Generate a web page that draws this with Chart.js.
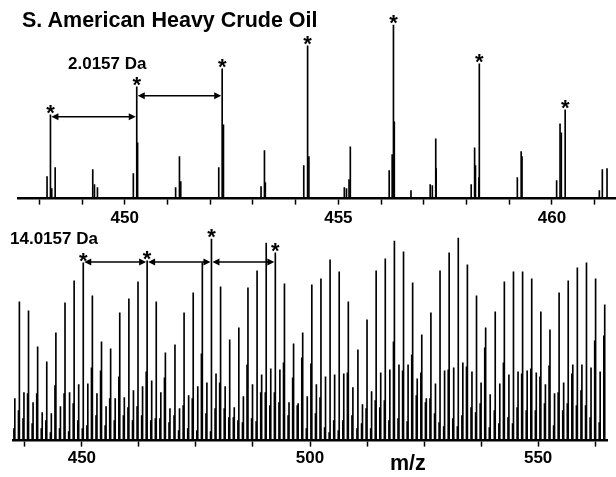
<!DOCTYPE html>
<html>
<head>
<meta charset="utf-8">
<script src="https://cdn.jsdelivr.net/npm/chart.js@4.4.1/dist/chart.umd.min.js"></script>
<style>
  body { margin: 0; background: #fff; width: 616px; height: 477px; overflow: hidden; position: relative; font-family: "Liberation Sans", Arial, sans-serif; }
  canvas { position: absolute; left: 0; }
  .lbl { position: absolute; font-weight: bold; line-height: 1; color: #000; white-space: nowrap; }
</style>
</head>
<body>
<canvas id="chartTop" width="616" height="233" style="top:0"></canvas>
<canvas id="chartBottom" width="616" height="251" style="top:220px"></canvas>
<div class="lbl" style="left:22px;top:10px;font-size:21.5px">S. American Heavy Crude Oil</div>
<div class="lbl" style="left:68px;top:55px;font-size:17px">2.0157 Da</div>
<div class="lbl" style="left:10px;top:230px;font-size:17px">14.0157 Da</div>
<div class="lbl" style="left:390px;top:453px;font-size:21.5px">m/z</div>
<script>
// --- upper panel (zoom on 448-461) ---
const topMz = [
  448.18, 448.26, 448.29, 448.37, 449.25, 449.29, 449.36,
  450.20, 450.28, 450.30, 451.19, 451.28, 451.31,
  452.20, 452.28, 452.31, 453.19, 453.27, 453.29,
  454.19, 454.28, 454.31, 455.14, 455.19, 455.25, 455.28,
  456.19, 456.26, 456.29, 456.31, 456.70,
  457.15, 457.20, 457.28, 457.29,
  458.11, 458.19, 458.21, 458.29, 458.30,
  459.19, 459.28, 459.30,
  460.11, 460.19, 460.22, 460.31,
  461.11, 461.18, 461.29
];
const topInt = [
  22, 84, 10, 31, 29, 14, 11,
  25, 112, 56, 11, 42, 17,
  31, 130, 74, 12, 48, 16,
  33, 153, 42, 11, 10, 19, 52,
  28, 44, 174, 77, 8,
  14, 13, 60, 30,
  14, 51, 33, 21, 135,
  21, 47, 42,
  18, 75, 66, 89,
  8, 29, 30
];
const topStars = [448.26, 450.28, 452.28, 454.28, 456.29, 458.30, 460.31];
const topArrowLevels = [82, 103];
const topTicks = [448, 449, 450, 451, 452, 453, 454, 455, 456, 457, 458, 459, 460, 461];
const topLabels = [450, 455, 460];

// --- lower panel (full range) ---
const lowMz = [
  435.3, 436.3, 437.3, 438.3, 439.3, 440.3, 441.3, 442.3, 443.3, 444.3,
  445.3, 446.3, 447.3, 448.3, 449.3, 450.3, 451.3, 452.3, 453.3, 454.3,
  455.3, 456.3, 457.3, 458.3, 459.3, 460.3, 461.3, 462.3, 463.3, 464.3,
  465.3, 466.3, 467.3, 468.3, 469.3, 470.4, 471.4, 472.4, 473.4, 474.4,
  475.4, 476.4, 477.4, 478.4, 479.4, 480.4, 481.4, 482.4, 483.4, 484.4,
  485.4, 486.4, 487.4, 488.4, 489.4, 490.4, 491.4, 492.4, 493.4, 494.4,
  495.4, 496.4, 497.4, 498.4, 499.4, 500.4, 501.4, 502.4, 503.4, 504.4,
  505.4, 506.4, 507.4, 508.4, 509.4, 510.5, 511.5, 512.5, 513.5, 514.5,
  515.5, 516.5, 517.5, 518.5, 519.5, 520.5, 521.5, 522.5, 523.5, 524.5,
  525.5, 526.5, 527.5, 528.5, 529.5, 530.5, 531.5, 532.5, 533.5, 534.5,
  535.5, 536.5, 537.5, 538.5, 539.5, 540.6, 541.6, 542.6, 543.6, 544.6,
  545.6, 546.6, 547.6, 548.6, 549.6, 550.6, 551.6, 552.6, 553.6, 554.6,
  555.6, 556.6, 557.6, 558.6, 559.6, 560.6, 561.6, 562.6, 563.6, 564.6
];
const lowMain = [
  42, 139, 48, 130, 38, 94, 28, 79, 27, 108,
  34, 138, 48, 160, 56, 178, 57, 145, 47, 99,
  34, 92, 42, 128, 43, 142, 50, 159, 54, 180,
  60, 139, 48, 88, 32, 96, 32, 128, 45, 148,
  54, 178, 58, 202, 67, 154, 54, 101, 33, 113,
  44, 153, 56, 170, 66, 198, 72, 188, 71, 157,
  38, 97, 37, 108, 44, 156, 56, 162, 64, 181,
  66, 169, 67, 139, 53, 91, 36, 121, 49, 170,
  68, 182, 71, 200, 76, 189, 76, 158, 62, 106,
  42, 128, 57, 170, 70, 188, 73, 203, 78, 176,
  69, 145, 58, 113, 46, 129, 57, 159, 66, 169,
  69, 169, 70, 162, 68, 129, 56, 111, 47, 148,
  58, 160, 76, 173, 76, 178, 73, 162, 69, 136
];
const lowMinor = [
  12, 30, 22, 47, 17, 47, 12, 20, 8, 55,
  12, 47, 9, 37, 20, 12, 15, 73, 25, 70,
  15, 42, 20, 64, 25, 33, 20, 34, 25, 69,
  20, 22, 22, 63, 18, 25, 10, 35, 12, 42,
  10, 87, 27, 9, 32, 58, 32, 23, 23, 20,
  18, 76, 22, 19, 48, 48, 35, 48, 38, 78,
  25, 63, 35, 83, 12, 77, 27, 43, 13, 8,
  20, 10, 20, 68, 25, 12, 17, 32, 12, 40,
  33, 40, 20, 99, 22, 70, 19, 86, 45, 68,
  38, 42, 27, 18, 14, 71, 22, 14, 25, 74,
  33, 28, 37, 93, 13, 30, 17, 78, 23, 17,
  33, 67, 30, 72, 30, 64, 37, 75, 15, 48,
  30, 37, 67, 35, 50, 35, 23, 100, 18, 105
];
const lowStars = [450.3, 464.3, 478.4, 492.4];
const lowArrowLevels = [179, 179, 179];
const lowTicks = [437.5, 450, 462.5, 475, 487.5, 500, 512.5, 525, 537.5, 550, 562.5];
const lowLabels = [450, 500, 550];

const FONT = '"Liberation Sans", Arial, sans-serif';
const el = (id) => document.getElementById(id);

// double headed arrow between two peaks
const drawArrow = (ctx, x1, x2, yy) => {
  const hl = 7, hw = 3.5;
  ctx.lineWidth = 1.5;
  ctx.beginPath(); ctx.moveTo(x1 + hl - 1, yy); ctx.lineTo(x2 - hl + 1, yy); ctx.stroke();
  ctx.beginPath(); ctx.moveTo(x1, yy); ctx.lineTo(x1 + hl, yy - hw); ctx.lineTo(x1 + hl, yy + hw); ctx.closePath(); ctx.fill();
  ctx.beginPath(); ctx.moveTo(x2, yy); ctx.lineTo(x2 - hl, yy - hw); ctx.lineTo(x2 - hl, yy + hw); ctx.closePath(); ctx.fill();
};

const starsAndArrows = {
  id: 'starsAndArrows',
  afterDatasetsDraw(chart, args, opts) {
    const { ctx, scales: { x, y } } = chart;
    ctx.save();
    ctx.fillStyle = '#000';
    ctx.strokeStyle = '#000';
    ctx.font = 'bold 22px ' + FONT;
    ctx.textAlign = 'center';
    ctx.textBaseline = 'alphabetic';
    opts.stars.forEach((mz) => {
      const h = opts.heights[opts.mz.indexOf(mz)];
      ctx.fillText('*', x.getPixelForValue(mz), y.getPixelForValue(h) + 5);
    });
    opts.levels.forEach((lvl, i) => {
      const x1 = x.getPixelForValue(opts.stars[i]) + 1;
      const x2 = x.getPixelForValue(opts.stars[i + 1]) - 1;
      drawArrow(ctx, x1, x2, y.getPixelForValue(lvl));
    });
    ctx.restore();
  }
};

function makeSpectrum(id, cfg) {
  return new Chart(el(id).getContext('2d'), {
    type: 'bar',
    data: {
      datasets: cfg.series.map((s) => ({
        data: s,
        backgroundColor: '#000',
        borderWidth: 0,
        barThickness: 1,
        grouped: false,
      })),
    },
    options: {
      responsive: false,
      animation: false,
      layout: { padding: cfg.padding },
      plugins: {
        legend: { display: false },
        tooltip: { enabled: false },
        starsAndArrows: cfg.marks,
      },
      scales: {
        x: {
          type: 'linear',
          min: cfg.min,
          max: cfg.max,
          offset: false,
          afterBuildTicks: (ax) => { ax.ticks = cfg.ticks.map((v) => ({ value: v })); },
          grid: { offset: false, drawOnChartArea: false, color: '#000', tickLength: 6, tickWidth: 1.5 },
          border: { display: true, color: '#000', width: 2.5 },
          ticks: {
            color: '#000',
            padding: cfg.tickPad,
            maxRotation: 0,
            autoSkip: false,
            font: { family: FONT, size: 17, weight: 'bold' },
            callback: (v) => (cfg.labels.includes(v) ? String(v) : ''),
          },
        },
        y: { display: false, min: 0, max: cfg.yMax },
      },
    },
    plugins: [starsAndArrows],
  });
}

const pts = (xs, ys, shift) => xs.map((m, i) => ({ x: m + shift, y: ys[i] }));

makeSpectrum('chartTop', {
  series: [pts(topMz, topInt, 0)],
  padding: { left: 18, right: 0, top: 14, bottom: 0 },
  min: 447.5, max: 461.5, yMax: 185, tickPad: 4,
  ticks: topTicks, labels: topLabels,
  marks: { stars: topStars, mz: topMz, heights: topInt, levels: topArrowLevels },
});

makeSpectrum('chartBottom', {
  series: [pts(lowMz, lowMinor, -0.2), pts(lowMz, lowMain, 0)],
  padding: { left: 13, right: 9, top: 6, bottom: 0 },
  min: 434.9, max: 565.1, yMax: 215, tickPad: 2,
  ticks: lowTicks, labels: lowLabels,
  marks: { stars: lowStars, mz: lowMz, heights: lowMain, levels: lowArrowLevels },
});
</script>
</body>
</html>
